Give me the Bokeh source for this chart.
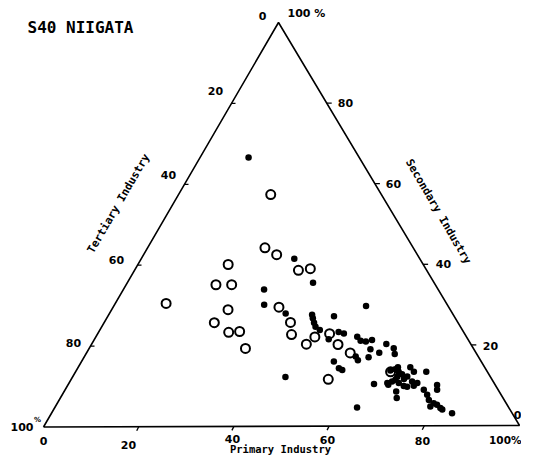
from bokeh.plotting import figure
from bokeh.models import Range1d, Label
from bokeh.embed import file_html
from bokeh.resources import INLINE
import numpy as np

# ---- data (percent shares) ----
# open circles
open_primary = [19.4, 24.7, 28.0, 34.5, 36.8, 19.0, 18.9, 22.2, 10.7, 34.9, 24.5,
                39.2, 40.9, 46.1, 48.8, 51.9, 45.2, 55.5, 54.1, 66.3, 23.2, 27.4, 32.9,
                29.6]
open_secondary = [57.4, 44.2, 42.5, 38.6, 39.0, 40.1, 35.1, 35.1, 30.5, 29.5, 28.9,
                  25.7, 22.7, 22.1, 22.9, 20.2, 20.3, 18.1, 11.6, 13.4, 25.7, 23.3, 19.3,
                  23.5]
# filled dots
fill_primary = [10.2, 32.2, 39.1, 29.6, 31.5, 37.1, 53.1, 42.8, 43.4, 47.6, 44.2, 45.0,
                46.3, 49.3, 50.5, 51.8, 55.0, 56.2, 57.4, 58.5, 62.0, 64.1, 65.0, 57.1,
                58.0, 59.3, 59.9, 61.6, 53.1, 55.0, 55.9, 44.8, 66.1, 67.0, 69.9, 71.2,
                73.8, 64.3, 67.0, 69.9, 70.8, 77.7, 78.3, 79.2, 80.1, 81.2, 81.8, 84.3, 63.6,
                67.3, 68.0, 69.0, 68.3, 68.3, 70.0, 70.4, 67.8, 69.4, 70.8, 71.6, 72.0,
                72.9, 73.3, 75.5, 76.8, 77.8, 67.4, 78.9]
fill_secondary = [66.6, 41.5, 35.5, 33.9, 30.1, 27.9, 29.7, 27.6, 26.7, 27.2, 25.6, 24.6,
                  23.8, 21.5, 23.3, 22.9, 22.1, 21.1, 20.9, 21.3, 20.3, 19.2, 17.8, 17.2,
                  16.3, 19.0, 17.0, 18.1, 16.0, 14.3, 13.9, 12.2, 13.7, 14.0, 14.5, 13.4,
                  13.4, 10.4, 10.6, 8.5, 6.9, 10.1, 8.9, 5.6, 5.2, 4.4, 4.0, 3.1, 4.6,
                  14.5, 13.4, 12.8, 12.2, 11.4, 11.6, 12.2, 11.0, 10.6, 9.9, 9.7, 11.0,
                  9.9, 10.6, 8.9, 7.7, 6.4, 10.2, 4.8]

ticks = [20, 40, 60, 80]
title_text = "S40 NIIGATA"

# ---- layout: triangle corners in picture pixels ----
BL = (43.0, 426.5)   # Tertiary 100
BR = (519.0, 425.0)  # Primary 100
TP = (278.0, 22.0)   # Secondary 100


def tern(prim, sec):
    prim = np.asarray(prim, float) / 100.0
    sec = np.asarray(sec, float) / 100.0
    ter = 1.0 - prim - sec
    x = BL[0] * ter + BR[0] * prim + TP[0] * sec
    y = BL[1] * ter + BR[1] * prim + TP[1] * sec
    return x, y


W, H = 521, 456
p = figure(width=W, height=H, x_range=Range1d(0, W), y_range=Range1d(H, 0),
           output_backend="svg", toolbar_location=None, min_border=0,
           x_axis_type=None, y_axis_type=None)
p.grid.visible = False
p.outline_line_color = None
p.background_fill_color = "white"

# triangle
p.line([BL[0], BR[0], TP[0], BL[0]], [BL[1], BR[1], TP[1], BL[1]],
       line_color="black", line_width=1.6)

# ticks
tx0, ty0, tx1, ty1 = [], [], [], []
for v in ticks:
    x, y = tern(v, 0)                       # primary (bottom)
    tx0.append(float(x)); ty0.append(float(y)); tx1.append(float(x) - 2); ty1.append(float(y) + 4)
    x, y = tern(0, 100 - v)                 # tertiary (left)
    tx0.append(float(x)); ty0.append(float(y)); tx1.append(float(x) + 4); ty1.append(float(y))
    x, y = tern(100 - v, v)                 # secondary (right)
    tx0.append(float(x)); ty0.append(float(y)); tx1.append(float(x) + 5); ty1.append(float(y))
p.segment(tx0, ty0, tx1, ty1, line_color="black", line_width=1.3)

# points
ox, oy = tern(open_primary, open_secondary)
fx, fy = tern(fill_primary, fill_secondary)
p.scatter(fx, fy, size=6.5, marker="circle", fill_color="black", line_color=None)
p.scatter(ox, oy, size=9, marker="circle", fill_color=None, line_color="black", line_width=2)

FONT = "DejaVu Sans"
MONO = "DejaVu Sans Mono"


def lab(x, y, t, size="11px", font=FONT, style="bold", angle=0.0, align="center"):
    p.add_layout(Label(x=x, y=y, text=t, text_font=font, text_font_size=size,
                       text_font_style=style, text_align=align, text_baseline="middle",
                       angle=angle, text_color="black"))


# title
lab(27, 27, title_text, size="16px", font=MONO, align="left")

# bottom (primary) labels
bottom_pos = {0: (43, 440), 20: (128, 444), 40: (232, 438), 60: (327, 439), 80: (422, 440)}
for v, (x, y) in bottom_pos.items():
    lab(x, y, str(v))
lab(521, 439, "100%", size="10.5px", align="right")
lab(521, 414, "0", align="right")

# left (tertiary) labels
left_pos = {20: (215, 90), 40: (168, 174), 60: (116, 259), 80: (73, 342)}
for v, (x, y) in left_pos.items():
    lab(x, y, str(v))
lab(33, 426, "100", align="right")
lab(37, 419, "%", size="7px")
lab(262, 15, "0")

# right (secondary) labels
right_pos = {80: (345, 102), 60: (393, 183), 40: (443, 263), 20: (490, 345)}
for v, (x, y) in right_pos.items():
    lab(x, y, str(v))
lab(287, 13, "100 %", align="left")

# axis titles
ang = float(np.arctan((BL[1] - TP[1]) / (TP[0] - BL[0])))
lab(280, 448, "Primary Industry", size="10.5px", font=MONO)
lab(118, 203, "Tertiary Industry", size="11px", font=MONO, angle=ang)
lab(438, 211, "Secondary Industry", size="11px", font=MONO, angle=-ang)

open("out.html", "w").write(file_html(p, INLINE))
